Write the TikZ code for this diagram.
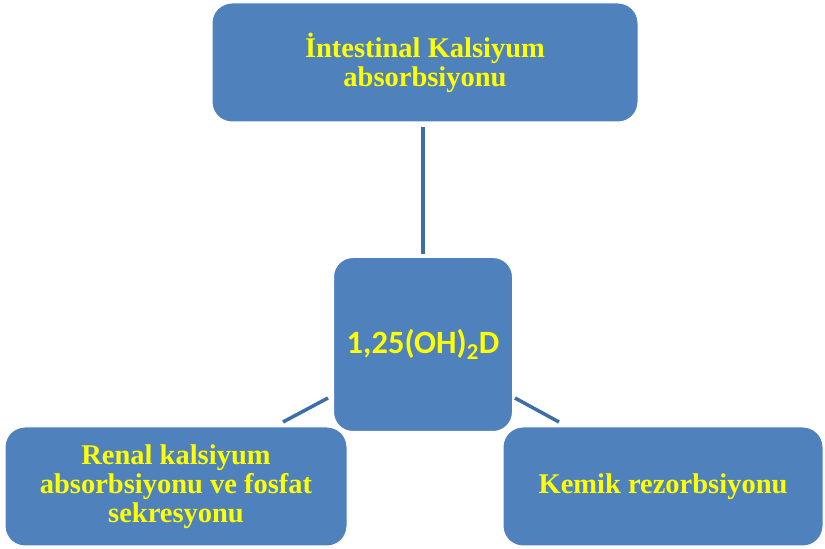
\documentclass[tikz,border=0pt]{standalone}
\usepackage{fontspec}
\setmainfont{Liberation Serif}
\newfontfamily\calfont{Carlito}
\definecolor{boxblue}{HTML}{4F81BD}
\definecolor{lineblue}{HTML}{3E6EA6}
\definecolor{txtyellow}{HTML}{FFFF00}
\begin{document}
\begin{tikzpicture}[x=1pt,y=1pt,
  box/.style={draw=white, line width=1pt, fill=boxblue, rounded corners=20pt,
    text=txtyellow, align=center, inner sep=0pt,
    font=\fontsize{28.5}{29}\selectfont\bfseries},
  conn/.style={draw=lineblue, line width=3.5pt}]
\useasboundingbox (0,0) rectangle (825,549);
% bottom boxes
\node[box, minimum width=342pt, minimum height=119pt] (bl) at (176,62.5)
  {Renal kalsiyum\\absorbsiyonu ve fosfat\\sekresyonu};
\node[box, minimum width=320pt, minimum height=119pt] (br) at (663,62.5)
  {Kemik rezorbsiyonu};
% top box
\node[box, minimum width=426pt, minimum height=119pt] (top) at (425,486.5)
  {İntestinal Kalsiyum\\absorbsiyonu};
% center box
\node[box, line width=2pt, minimum width=180pt, minimum height=175pt,
  font=\calfont\fontsize{32.5}{34}\selectfont\bfseries] (c) at (423,204.5)
  {1,25(OH)\textsubscript{2}D};
% connector end points
\coordinate (cl) at (328,151);
\coordinate (blt) at (283,127);
\coordinate (cr) at (515,151);
\coordinate (brt) at (559,127);
\draw[conn] ([yshift=-5pt]top.south -| c.north) -- ([yshift=2pt]c.north);
\draw[conn] (cl) -- (blt);
\draw[conn] (cr) -- (brt);
\end{tikzpicture}
\end{document}
